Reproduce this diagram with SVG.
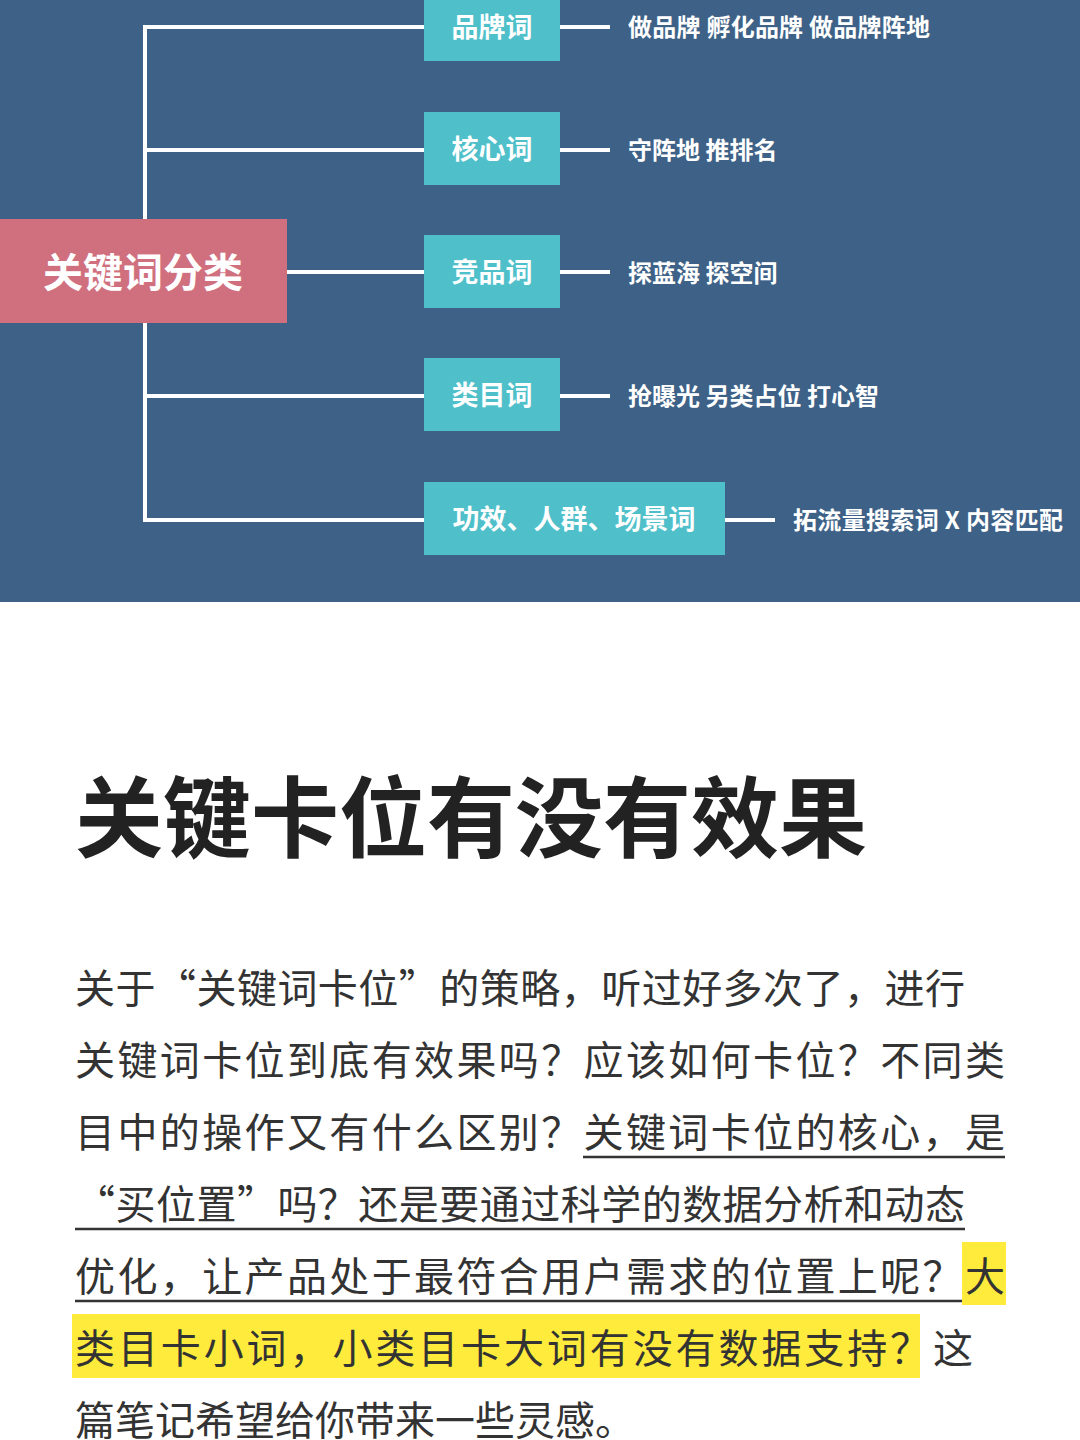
<svg xmlns="http://www.w3.org/2000/svg" width="1080" height="1440" viewBox="0 0 1080 1440">
<style>
.n{fill:#4fbfca}
.nt{font-family:"Noto Sans CJK SC",sans-serif;font-weight:bold;font-size:27px;fill:#fff}
.lb{font-family:"Noto Sans CJK SC",sans-serif;font-weight:bold;font-size:24px;fill:#fff}
.c{stroke:#fff;stroke-width:4;fill:none}
.p{font-family:"Noto Sans CJK SC",sans-serif;font-size:40px;fill:#333}
.u{stroke:#333;stroke-width:2.5}
</style>
<rect x="0" y="0" width="1080" height="602" fill="#3e6287"/>
<rect x="0" y="602" width="1080" height="838" fill="#fff"/>
<g id="connectors">
<path class="c" d="M424 27H145V520H424M145 150H424M287 272H424M145 396H424"/>
<path class="c" d="M560 27H610M560 150H610M560 272H610M560 396H610M725 520H775"/>
</g>
<g id="root"><rect x="0" y="219" width="287" height="104" fill="#d0707f"/>
<text x="143" y="287" text-anchor="middle" font-family="Noto Sans CJK SC,sans-serif" font-weight="bold" font-size="40" fill="#fff">关键词分类</text></g>
<g id="n1"><rect class="n" x="424" y="0" width="136" height="61"/><text class="nt" x="492" y="37" text-anchor="middle">品牌词</text><text class="lb" x="628" y="36" textLength="302">做品牌 孵化品牌 做品牌阵地</text></g>
<g id="n2"><rect class="n" x="424" y="112" width="136" height="73"/><text class="nt" x="492" y="159" text-anchor="middle">核心词</text><text class="lb" x="628" y="159">守阵地 推排名</text></g>
<g id="n3"><rect class="n" x="424" y="235" width="136" height="73"/><text class="nt" x="492" y="282" text-anchor="middle">竞品词</text><text class="lb" x="628" y="282">探蓝海 探空间</text></g>
<g id="n4"><rect class="n" x="424" y="358" width="136" height="73"/><text class="nt" x="492" y="405" text-anchor="middle">类目词</text><text class="lb" x="628" y="405">抢曝光 另类占位 打心智</text></g>
<g id="n5"><rect class="n" x="424" y="482" width="301" height="73"/><text class="nt" x="574" y="529" text-anchor="middle">功效、人群、场景词</text><text class="lb" x="793" y="529" textLength="270">拓流量搜索词 X 内容匹配</text></g>
<text x="75" y="850" font-family="Noto Sans CJK SC,sans-serif" font-weight="bold" font-size="88" fill="#222">关键卡位有没有效果</text>
<rect x="962" y="1242" width="44" height="63" fill="#ffeb3b"/>
<rect x="72" y="1314" width="848" height="64" fill="#ffeb3b"/>
<path class="u" d="M583 1157H1005M75 1229H965M75 1301H962"/>
<text class="p" x="75" y="1003" textLength="890">关于“关键词卡位”的策略，听过好多次了，进行</text>
<text class="p" x="75" y="1075" textLength="930">关键词卡位到底有效果吗？应该如何卡位？不同类</text>
<text class="p" x="75" y="1147" textLength="930">目中的操作又有什么区别？关键词卡位的核心，是</text>
<text class="p" x="75" y="1219" textLength="890">“买位置”吗？还是要通过科学的数据分析和动态</text>
<text class="p" x="75" y="1291" textLength="930">优化，让产品处于最符合用户需求的位置上呢？大</text>
<text class="p" x="75" y="1363" textLength="898">类目卡小词，小类目卡大词有没有数据支持？这</text>
<text class="p" x="75" y="1435">篇笔记希望给你带来一些灵感。</text>
</svg>
